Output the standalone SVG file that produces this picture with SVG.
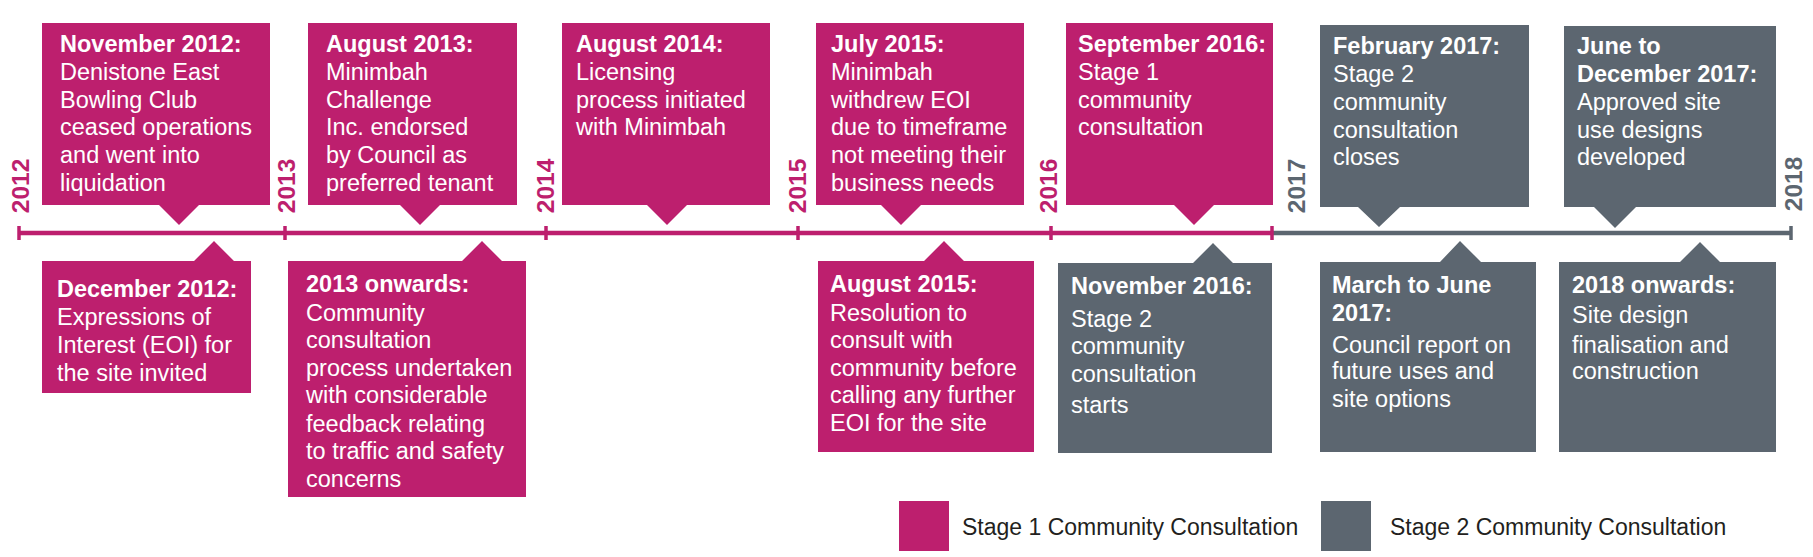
<svg xmlns="http://www.w3.org/2000/svg" width="1813" height="557" viewBox="0 0 1813 557">
<style>
.pink{fill:#BD1F6E}
.gray{fill:#5C6670}
.t{font-family:"Liberation Sans",Arial,sans-serif;font-size:23.5px;fill:#fff}
.h{font-weight:bold}
.yr{font-family:"Liberation Sans",Arial,sans-serif;font-size:24.5px;font-weight:bold;text-anchor:middle}
.yp{fill:#BD1F6E}
.yg{fill:#5C6670}
.lg{font-family:"Liberation Sans",Arial,sans-serif;font-size:23px;fill:#231F20}
.lp{stroke:#BD1F6E;stroke-width:4.5;fill:none}
.lgy{stroke:#5C6670;stroke-width:4.5;fill:none}
.tp{stroke:#BD1F6E;stroke-width:3.5}
.tg{stroke:#5C6670;stroke-width:3.5}
</style>
<rect width="1813" height="557" fill="#fff"/>
<g id="connectors">
<line class="lp" x1="19" y1="233" x2="1272" y2="233"/>
<line class="lgy" x1="1272" y1="233" x2="1791" y2="233"/>
<line class="tp" x1="19" y1="226" x2="19" y2="240"/>
<line class="tp" x1="285" y1="226" x2="285" y2="240"/>
<line class="tp" x1="546" y1="226" x2="546" y2="240"/>
<line class="tp" x1="798" y1="226" x2="798" y2="240"/>
<line class="tp" x1="1051" y1="226" x2="1051" y2="240"/>
<line class="tp" x1="1272" y1="226" x2="1272" y2="240"/>
<line class="tg" x1="1791" y1="226" x2="1791" y2="240"/>
</g>
<g id="years">
<text class="yr yp" transform="translate(29,186) rotate(-90)">2012</text>
<text class="yr yp" transform="translate(295,186) rotate(-90)">2013</text>
<text class="yr yp" transform="translate(554,186) rotate(-90)">2014</text>
<text class="yr yp" transform="translate(806,186) rotate(-90)">2015</text>
<text class="yr yp" transform="translate(1057,186) rotate(-90)">2016</text>
<text class="yr yg" transform="translate(1305,186) rotate(-90)">2017</text>
<text class="yr yg" transform="translate(1802,184) rotate(-90)">2018</text>
</g>
<g id="nov2012">
<path class="pink" d="M42,23H270V205H199L179,225L159,205H42Z"/>
<text class="t"><tspan class="h" x="60" y="52">November 2012:</tspan><tspan x="60" y="80">Denistone East</tspan><tspan x="60" y="108">Bowling Club</tspan><tspan x="60" y="135">ceased operations</tspan><tspan x="60" y="163">and went into</tspan><tspan x="60" y="191">liquidation</tspan></text>
</g>
<g id="aug2013">
<path class="pink" d="M308,23H517V205H440L420,225L400,205H308Z"/>
<text class="t"><tspan class="h" x="326" y="52">August 2013:</tspan><tspan x="326" y="80">Minimbah</tspan><tspan x="326" y="108">Challenge</tspan><tspan x="326" y="135">Inc. endorsed</tspan><tspan x="326" y="163">by Council as</tspan><tspan x="326" y="191">preferred tenant</tspan></text>
</g>
<g id="aug2014">
<path class="pink" d="M562,23H770V205H687L667,225L647,205H562Z"/>
<text class="t"><tspan class="h" x="576" y="52">August 2014:</tspan><tspan x="576" y="80">Licensing</tspan><tspan x="576" y="108">process initiated</tspan><tspan x="576" y="135">with Minimbah</tspan></text>
</g>
<g id="jul2015">
<path class="pink" d="M816,23H1024V205H921L901,225L881,205H816Z"/>
<text class="t"><tspan class="h" x="831" y="52">July 2015:</tspan><tspan x="831" y="80">Minimbah</tspan><tspan x="831" y="108">withdrew EOI</tspan><tspan x="831" y="135">due to timeframe</tspan><tspan x="831" y="163">not meeting their</tspan><tspan x="831" y="191">business needs</tspan></text>
</g>
<g id="sep2016">
<path class="pink" d="M1066,23H1273V205H1214L1194,225L1174,205H1066Z"/>
<text class="t"><tspan class="h" x="1078" y="52">September 2016:</tspan><tspan x="1078" y="80">Stage 1</tspan><tspan x="1078" y="108">community</tspan><tspan x="1078" y="135">consultation</tspan></text>
</g>
<g id="feb2017">
<path class="gray" d="M1320,25H1529V207H1400L1379,227L1358,207H1320Z"/>
<text class="t"><tspan class="h" x="1333" y="54">February 2017:</tspan><tspan x="1333" y="82">Stage 2</tspan><tspan x="1333" y="110">community</tspan><tspan x="1333" y="138">consultation</tspan><tspan x="1333" y="165">closes</tspan></text>
</g>
<g id="jun-dec2017">
<path class="gray" d="M1564,26H1776V207H1636L1615,228L1594,207H1564Z"/>
<text class="t"><tspan class="h" x="1577" y="54">June to</tspan><tspan class="h" x="1577" y="82">December 2017:</tspan><tspan x="1577" y="110">Approved site</tspan><tspan x="1577" y="138">use designs</tspan><tspan x="1577" y="165">developed</tspan></text>
</g>
<g id="dec2012">
<path class="pink" d="M42,261H194L214,241L234,261H251V393H42Z"/>
<text class="t"><tspan class="h" x="57" y="297">December 2012:</tspan><tspan x="57" y="325">Expressions of</tspan><tspan x="57" y="353">Interest (EOI) for</tspan><tspan x="57" y="381">the site invited</tspan></text>
</g>
<g id="onwards2013">
<path class="pink" d="M288,261H462L482,241L502,261H526V497H288Z"/>
<text class="t"><tspan class="h" x="306" y="292">2013 onwards:</tspan><tspan x="306" y="321">Community</tspan><tspan x="306" y="348">consultation</tspan><tspan x="306" y="376">process undertaken</tspan><tspan x="306" y="403">with considerable</tspan><tspan x="306" y="432">feedback relating</tspan><tspan x="306" y="459">to traffic and safety</tspan><tspan x="306" y="487">concerns</tspan></text>
</g>
<g id="aug2015">
<path class="pink" d="M818,261H924L944,241L964,261H1034V452H818Z"/>
<text class="t"><tspan class="h" x="830" y="292">August 2015:</tspan><tspan x="830" y="321">Resolution to</tspan><tspan x="830" y="348">consult with</tspan><tspan x="830" y="376">community before</tspan><tspan x="830" y="403">calling any further</tspan><tspan x="830" y="431">EOI for the site</tspan></text>
</g>
<g id="nov2016">
<path class="gray" d="M1058,263H1193L1213,243L1233,263H1272V453H1058Z"/>
<text class="t"><tspan class="h" x="1071" y="294">November 2016:</tspan><tspan x="1071" y="327">Stage 2</tspan><tspan x="1071" y="354">community</tspan><tspan x="1071" y="382">consultation</tspan><tspan x="1071" y="413">starts</tspan></text>
</g>
<g id="mar-jun2017">
<path class="gray" d="M1320,262H1440L1460,241L1481,262H1536V452H1320Z"/>
<text class="t"><tspan class="h" x="1332" y="293">March to June</tspan><tspan class="h" x="1332" y="321">2017:</tspan><tspan x="1332" y="353">Council report on</tspan><tspan x="1332" y="379">future uses and</tspan><tspan x="1332" y="407">site options</tspan></text>
</g>
<g id="onwards2018">
<path class="gray" d="M1559,262H1680L1700,242L1720,262H1776V452H1559Z"/>
<text class="t"><tspan class="h" x="1572" y="293">2018 onwards:</tspan><tspan x="1572" y="323">Site design</tspan><tspan x="1572" y="353">finalisation and</tspan><tspan x="1572" y="379">construction</tspan></text>
</g>
<g id="legend">
<rect class="pink" x="899" y="501" width="50" height="50"/>
<text class="lg" x="962" y="535">Stage 1 Community Consultation</text>
<rect class="gray" x="1321" y="501" width="50" height="50"/>
<text class="lg" x="1390" y="535">Stage 2 Community Consultation</text>
</g>
</svg>
